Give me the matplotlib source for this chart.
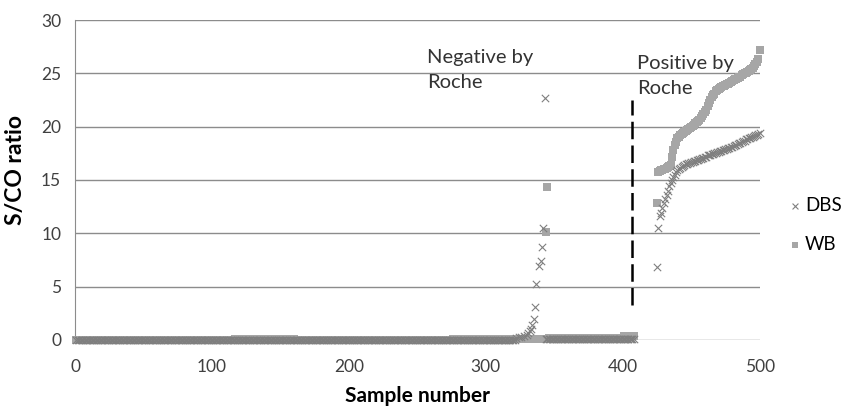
import matplotlib
matplotlib.use('Agg')
from matplotlib import pyplot as plt
import numpy as np

plt.rcParams['font.family'] = ['Lato', 'DejaVu Sans']

# Negative by Roche: near-zero baseline as (first sample, last sample, level) runs
wb_neg_runs = [(1, 116, 0.02), (117, 160, 0.10), (161, 275, 0.03),
               (276, 330, 0.10), (331, 343, 0.12), (346, 380, 0.15),
               (381, 400, 0.20), (401, 408, 0.35)]
wb_neg_outlier_x = [344, 345]
wb_neg_outlier_y = [10.1, 14.3]

dbs_neg_runs = [(1, 321, 0.02), (344, 408, 0.05)]
dbs_rise_x = [322, 324, 326, 328, 330, 331, 332, 333, 334, 335, 336, 337, 339, 340, 341, 342, 343]
dbs_rise_y = [0.2, 0.3, 0.3, 0.4, 0.5, 0.6, 0.8, 1.0, 1.4, 2.0, 3.1, 5.2, 6.9, 7.4, 8.7, 10.5, 22.7]

# Positive by Roche: samples 425..500
pos_first, pos_last = 425, 500
dbs_pos = [6.8, 10.5, 11.6, 11.9, 12.4, 12.8, 13.2, 13.6, 14.0, 14.4, 14.7, 15.0, 15.3,
           15.5, 15.7, 15.9, 16.0, 16.1, 16.2, 16.3, 16.4, 16.5, 16.5, 16.6, 16.6, 16.7,
           16.7, 16.8, 16.8, 16.9, 16.9, 17.0, 17.0, 17.1, 17.1, 17.2,
           17.2, 17.3, 17.3, 17.3, 17.4, 17.4, 17.5, 17.5, 17.6, 17.6,
           17.7, 17.7, 17.8, 17.8, 17.9, 17.9, 18.0, 18.0, 18.1, 18.1,
           18.2, 18.3, 18.3, 18.4, 18.5, 18.5, 18.6, 18.7, 18.7, 18.8,
           18.8, 18.9, 18.9, 19.0, 19.0, 19.1, 19.2, 19.2, 19.3, 19.4]
wb_pos = [12.8, 15.7, 15.8, 15.9, 15.9, 16.0, 16.0, 16.1, 16.2, 16.3, 16.4,
          17.2, 17.8, 18.3, 18.6, 18.9,
          19.0, 19.2, 19.3, 19.4, 19.5, 19.6, 19.7, 19.8, 19.9, 20.0,
          20.1, 20.2, 20.3, 20.4, 20.5, 20.6, 20.8, 21.0, 21.2, 21.4,
          21.6, 21.9, 22.2, 22.5, 22.8, 23.0, 23.1, 23.3, 23.4, 23.5,
          23.6, 23.7, 23.8, 23.8, 23.9, 24.0, 24.0, 24.1, 24.2, 24.3,
          24.4, 24.5, 24.5, 24.6, 24.7, 24.7, 24.8, 24.9, 25.0, 25.0,
          25.1, 25.2, 25.3, 25.4, 25.5, 25.7, 25.9, 26.1, 26.3, 27.2]

cutoff_x = 407
cutoff_y = (3.3, 22.5)


def expand(runs):
    xs, ys = [], []
    for a, b, v in runs:
        xs += list(range(a, b + 1))
        ys += [v] * (b - a + 1)
    return xs, ys


wb_x, wb_y = expand(wb_neg_runs)
wb_x += wb_neg_outlier_x + list(range(pos_first, pos_last + 1))
wb_y += wb_neg_outlier_y + wb_pos

dbs_x, dbs_y = expand(dbs_neg_runs)
dbs_x += dbs_rise_x + list(range(pos_first, pos_last + 1))
dbs_y += dbs_rise_y + dbs_pos

fig = plt.figure(figsize=(8.44, 4.09), dpi=100)
ax = fig.add_axes([0.089, 0.169, 0.811, 0.782])

ax.scatter(wb_x, wb_y, marker='s', s=30, color='#a6a6a6', linewidths=0,
           label='WB', zorder=3, clip_on=False)
ax.scatter(dbs_x, dbs_y, marker='x', s=28, color='#7f7f7f', linewidths=0.8,
           label='DBS', zorder=4, clip_on=False)

ax.plot([cutoff_x, cutoff_x], cutoff_y, color='black', linestyle=(0, (7, 2.5)),
        linewidth=1.8, zorder=5)

ax.text(257, 27.3, 'Negative by\nRoche', fontsize=14.5, color='#333333',
        va='top', ha='left', linespacing=1.6)
ax.text(410.5, 26.75, 'Positive by\nRoche', fontsize=14.5, color='#333333',
        va='top', ha='left', linespacing=1.6)

ax.set_xlim(0, 500)
ax.set_ylim(0, 30)
ax.set_xticks(np.arange(0, 501, 100))
ax.set_yticks(np.arange(0, 31, 5))
ax.yaxis.grid(True, color='#8c8c8c', linewidth=1)
ax.set_axisbelow(True)
for s in ['top', 'right', 'bottom']:
    ax.spines[s].set_visible(False)
ax.spines['left'].set_color('#8c8c8c')
ax.tick_params(length=0, labelsize=12.5, labelcolor='#404040')
ax.tick_params(axis='x', pad=14)
ax.tick_params(axis='y', pad=10)

ax.set_xlabel('Sample number', fontsize=15, fontweight='bold')
ax.xaxis.set_label_coords(0.5, -0.143)
ax.set_ylabel('S/CO ratio', fontsize=16.5, fontweight='bold')
ax.yaxis.set_label_coords(-0.072, 0.53)

handles, labels = ax.get_legend_handles_labels()
ax.legend(handles[::-1], labels[::-1], loc='center left',
          bbox_to_anchor=(0.926, 0.450), bbox_transform=fig.transFigure,
          borderaxespad=0, frameon=False, fontsize=13.5, handlelength=0.6,
          handletextpad=0.25, labelspacing=1.2, markerscale=0.8)

fig.savefig('out.png', dpi=100)
